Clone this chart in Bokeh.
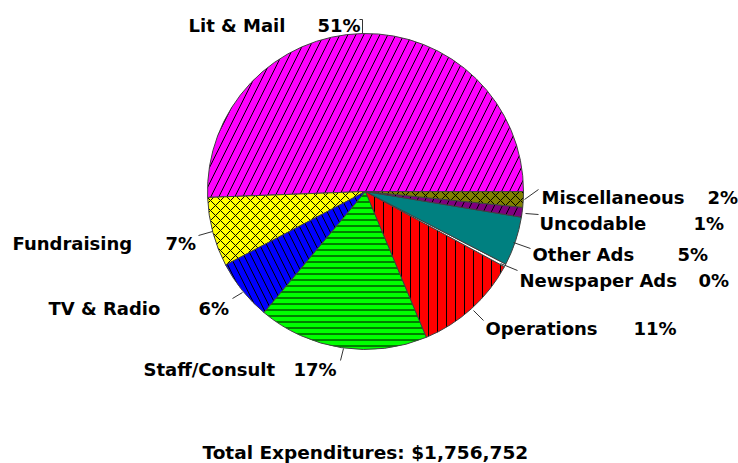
import math
from bokeh.plotting import figure
from bokeh.models import Range1d, ColumnDataSource
from bokeh.embed import file_html
from bokeh.resources import INLINE
from bokeh.core.properties import value

# ---- data ----
categories = ["Lit & Mail", "Fundraising", "TV & Radio", "Staff/Consult", "Operations",
              "Newspaper Ads", "Other Ads", "Uncodable", "Miscellaneous"]
shares = [50.6, 7.1, 6.2, 17.4, 10.8, 0.3, 5.0, 1.0, 1.6]
pct_labels = ["51%", "7%", "6%", "17%", "11%", "0%", "5%", "1%", "2%"]
total_label = "Total Expenditures: $1,756,752"

# ---- styles ----
colors = ["#FF00FF", "#FFFF00", "#0000FF", "#00FF00", "#FF0000",
          "#FFFFFF", "#008080", "#800080", "#808000"]
hatches = ["/", "x", "\\", "-", "|", " ", " ", "/", "x"]
hatch_scales = [16, 10, 14, 6, 9, 6, 6, 16, 10]

W, H = 738, 463
FONT = "DejaVu Sans"


def px(x):
    return x


def py(y):
    return H - y


# layout (page pixel positions): name x, pct x, baseline y
label_layout = {
    "Lit & Mail": (188, 317, 25),
    "Fundraising": (12, 165, 243),
    "TV & Radio": (48, 198, 308),
    "Staff/Consult": (143, 293, 369),
    "Operations": (485, 633, 328),
    "Newspaper Ads": (519, 698, 280),
    "Other Ads": (532, 677, 254),
    "Uncodable": (539, 693, 223),
    "Miscellaneous": (541, 707, 197),
}
leaders = {
    "Lit & Mail": [(359, 19), (362, 19), (362, 33)],
    "Fundraising": [(198, 235), (212, 231)],
    "TV & Radio": [(232, 298), (242, 292)],
    "Staff/Consult": [(340, 360), (343, 348)],
    "Operations": [(483, 320), (473, 310)],
    "Newspaper Ads": [(517, 270), (500, 263)],
    "Other Ads": [(530, 248), (513, 242)],
    "Uncodable": [(538, 214), (525, 213)],
    "Miscellaneous": [(538, 189), (524, 199)],
}
CX, CY, R = 365, 191, 158

total = sum(shares)
starts, ends = [], []
acc = 0.0
for s in shares:
    starts.append(acc / total * 2 * math.pi)
    acc += s
    ends.append(acc / total * 2 * math.pi)

src = ColumnDataSource(dict(cat=categories, start=starts, end=ends, color=colors,
                            hatch=hatches, hs=hatch_scales))

p = figure(width=W, height=H, output_backend="svg", toolbar_location=None,
           x_range=Range1d(0, W), y_range=Range1d(0, H), min_border=0)
p.axis.visible = False
p.grid.visible = False
p.outline_line_color = None
p.background_fill_color = "white"
p.border_fill_color = "white"

p.wedge(x=px(CX), y=py(CY), radius=R, start_angle="start", end_angle="end",
        fill_color="color", hatch_pattern="hatch", hatch_color="black",
        hatch_scale="hs", hatch_weight=1, line_color="#404040", line_width=1,
        source=src)

# leader lines
xs, ys = [], []
for c in categories:
    pts = leaders[c]
    xs.append([px(a) for a, b in pts])
    ys.append([py(b) for a, b in pts])
p.multi_line(xs=xs, ys=ys, line_color="#333333", line_width=1)

# labels
nx = [px(label_layout[c][0]) for c in categories]
qx = [px(label_layout[c][1]) for c in categories]
ly = [py(label_layout[c][2]) for c in categories]
lsrc = ColumnDataSource(dict(nx=nx, qx=qx, y=ly, name=categories, pct=pct_labels))
p.text(x="nx", y="y", text="name", source=lsrc, text_font=value(FONT),
       text_font_style="bold", text_font_size="18px", text_baseline="alphabetic",
       text_align="left", text_color="black")
p.text(x="qx", y="y", text="pct", source=lsrc, text_font=value(FONT),
       text_font_style="bold", text_font_size="18px", text_baseline="alphabetic",
       text_align="left", text_color="black")

p.text(x=[px(202)], y=[py(452)], text=[total_label], text_font=value(FONT),
       text_font_style="bold", text_font_size="18.5px", text_baseline="alphabetic",
       text_align="left", text_color="black")

open("out.html", "w").write(file_html(p, INLINE))
